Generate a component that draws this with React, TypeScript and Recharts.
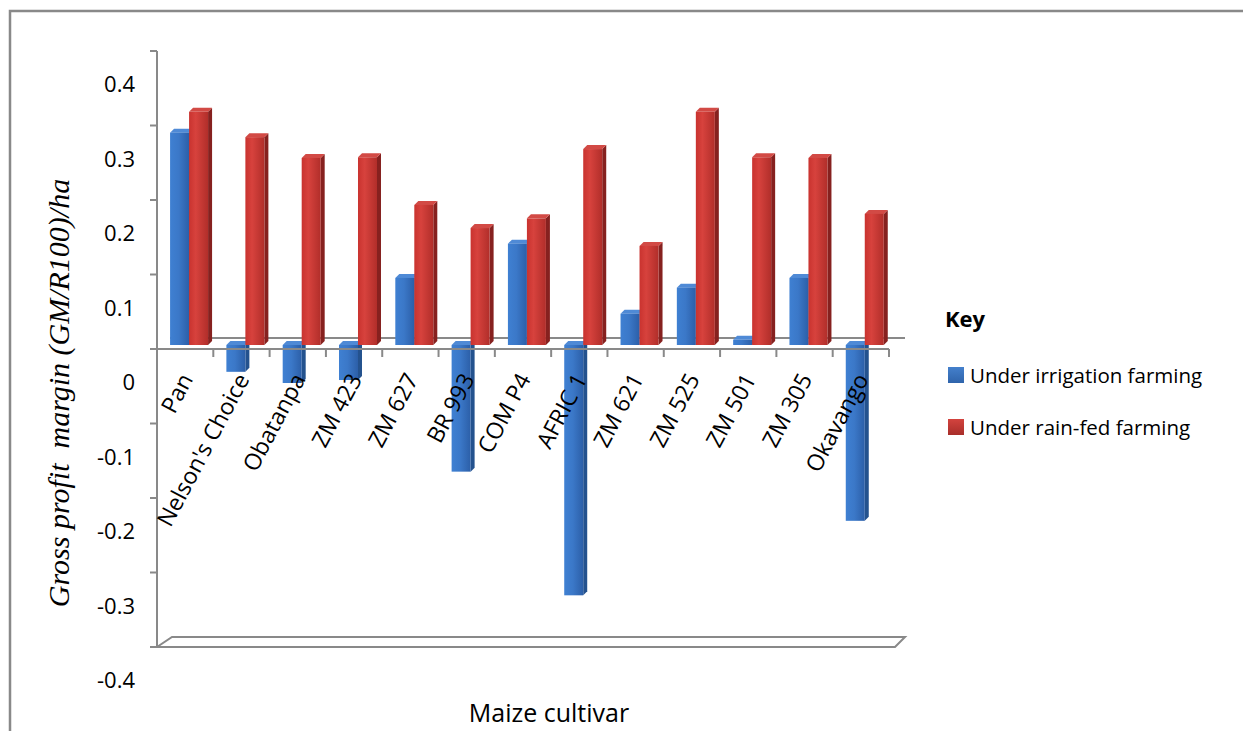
import { BarChart, Bar, XAxis, YAxis, Legend, ReferenceLine } from "recharts";

const cultivars = [
  "Pan",
  "Nelson's Choice",
  "Obatanpa",
  "ZM 423",
  "ZM 627",
  "BR 993",
  "COM P4",
  "AFRIC 1",
  "ZM 621",
  "ZM 525",
  "ZM 501",
  "ZM 305",
  "Okavango",
];
const irrigation = [0.285, -0.036, -0.051, -0.047, 0.09, -0.17, 0.136, -0.336, 0.042, 0.077, 0.007, 0.09, -0.236];
const rainFed = [0.313, 0.279, 0.251, 0.252, 0.188, 0.157, 0.17, 0.263, 0.133, 0.313, 0.252, 0.251, 0.176];
const yTicks = [-0.4, -0.3, -0.2, -0.1, 0, 0.1, 0.2, 0.3, 0.4];

const data = cultivars.map((name, i) => ({ name, irrigation: irrigation[i], rainFed: rainFed[i] }));

// layout (plot area 157..889 x 51..647)
const W = 1243;
const H = 731;
const TOP = 51;
const X_AXIS_H = 84;
const Y_AXIS_W = 157;
const RIGHT = 354;
const PLOT_L = Y_AXIS_W;
const PLOT_R = W - RIGHT;
const PLOT_B = H - X_AXIS_H;
const ZERO_Y = (TOP + PLOT_B) / 2;
const BAND = (PLOT_R - PLOT_L) / cultivars.length;

const GREY = "#898989";
const FONT = "'Open Sans', sans-serif";

const TONES: Record<string, { side: string; top: string; grad: string }> = {
  blue: { side: "#24528e", top: "#4f8ad6", grad: "url(#gBlue)" },
  red: { side: "#86211f", top: "#d24a45", grad: "url(#gRed)" },
};

// bar with a little perspective: front face, right side and top face
const Bar3D = (props: any) => {
  const { x, y, width, height, tone } = props;
  const t = TONES[tone];
  const d = 4;
  const left = x + 3.5;
  const top = Math.min(y, y + height) - 4;
  const h = Math.abs(height);
  return (
    <g>
      <path d={`M${left + width},${top} l${d},${-d} v${h} l${-d},${d} z`} fill={t.side} />
      <path d={`M${left},${top} l${d},${-d} h${width} l${-d},${d} z`} fill={t.top} />
      <rect x={left} y={top} width={width} height={h} fill={t.grad} />
    </g>
  );
};

const CategoryTick = (props: any) => {
  const { x, payload } = props;
  const ax = x + 8.5;
  const ay = ZERO_Y + 30;
  return (
    <g>
      <line x1={x + BAND / 2} y1={ZERO_Y} x2={x + BAND / 2} y2={ZERO_Y + 8} stroke={GREY} strokeWidth={2} />
      <text
        x={ax}
        y={ay}
        transform={`rotate(-62, ${ax}, ${ay})`}
        textAnchor="end"
        fontSize={23}
        fontFamily={FONT}
        fill="#000"
      >
        {payload.value}
      </text>
    </g>
  );
};

const ValueTick = (props: any) => {
  const { x, y, payload } = props;
  const v = payload.value;
  const label = Math.abs(v) < 1e-9 ? "0" : v.toFixed(1);
  return (
    <text x={x} y={y + 32} textAnchor="end" dominantBaseline="central" fontSize={22} fontFamily={FONT} fill="#000">
      {label}
    </text>
  );
};

const YTitle = () => (
  <text
    x={58}
    y={393}
    transform="rotate(-90, 58, 393)"
    textAnchor="middle"
    dominantBaseline="central"
    fontSize={30}
    fontStyle="italic"
    fontFamily="'Liberation Serif', 'Times New Roman', serif"
    style={{ whiteSpace: "pre" }}
    fill="#000"
  >
    {"Gross profit  margin (GM/R100)/ha"}
  </text>
);

const KeyLegend = () => (
  <div style={{ fontFamily: FONT, color: "#000" }}>
    <div style={{ fontWeight: 700, fontSize: 22, lineHeight: "30px", marginBottom: 16 }}>Key</div>
    {[
      { label: "Under irrigation farming", bg: "linear-gradient(#4480cc, #2f64ab)" },
      { label: "Under rain-fed farming", bg: "linear-gradient(#d3433e, #a82e2a)" },
    ].map((it) => (
      <div key={it.label} style={{ display: "flex", alignItems: "center", height: 52, marginLeft: 3 }}>
        <span style={{ width: 16, height: 16, background: it.bg, marginRight: 6, display: "inline-block" }} />
        <span style={{ fontSize: 20.5 }}>{it.label}</span>
      </div>
    ))}
  </div>
);

export default function App() {
  return (
    <div style={{ position: "absolute", left: 0, top: 0, width: W, height: H, background: "#fff" }}>
      <BarChart
        width={W}
        height={H}
        data={data}
        margin={{ top: TOP, right: RIGHT, bottom: 0, left: 0 }}
        barCategoryGap="17%"
        barGap={0}
      >
        <defs>
          <linearGradient id="gBlue" x1="0" y1="0" x2="1" y2="0">
            <stop offset="0%" stopColor="#3f80d2" />
            <stop offset="45%" stopColor="#3b78c8" />
            <stop offset="100%" stopColor="#2c5fa8" />
          </linearGradient>
          <linearGradient id="gRed" x1="0" y1="0" x2="1" y2="0">
            <stop offset="0%" stopColor="#c9332f" />
            <stop offset="35%" stopColor="#d7423d" />
            <stop offset="100%" stopColor="#b12e2a" />
          </linearGradient>
        </defs>
        <path d={`M10,${H} L10,11 L${W},11`} fill="none" stroke={GREY} strokeWidth={2.5} />
        <line x1={170} y1={ZERO_Y - 11} x2={905} y2={ZERO_Y - 11} stroke={GREY} strokeWidth={2} />
        <path
          d={`M${PLOT_L},${PLOT_B} L${PLOT_L + 15},${PLOT_B - 10} H${PLOT_R + 16} L${PLOT_R + 6},${PLOT_B} Z`}
          fill="#fff"
          stroke={GREY}
          strokeWidth={2}
        />
        <line x1={150} y1={PLOT_B} x2={PLOT_R + 6} y2={PLOT_B} stroke={GREY} strokeWidth={2} />
        <XAxis
          dataKey="name"
          height={X_AXIS_H}
          axisLine={false}
          tickLine={false}
          interval={0}
          tick={<CategoryTick />}
          label={{
            value: "Maize cultivar",
            position: "insideBottom",
            offset: 9,
            dx: 26,
            fontSize: 25,
            fontFamily: FONT,
            fill: "#000",
          }}
        />
        <YAxis
          width={Y_AXIS_W}
          domain={[-0.4, 0.4]}
          ticks={yTicks}
          interval={0}
          axisLine={{ stroke: GREY, strokeWidth: 2 }}
          tickLine={{ stroke: GREY, strokeWidth: 2 }}
          tickSize={7}
          tickMargin={15}
          tick={<ValueTick />}
        />
        <ReferenceLine y={0} stroke={GREY} strokeWidth={2} />
        <Bar dataKey="irrigation" name="Under irrigation farming" isAnimationActive={false} shape={<Bar3D tone="blue" />} />
        <Bar dataKey="rainFed" name="Under rain-fed farming" isAnimationActive={false} shape={<Bar3D tone="red" />} />
        <YTitle />
        <Legend
          layout="horizontal"
          verticalAlign="middle"
          align="center"
          content={<KeyLegend />}
          wrapperStyle={{ left: 945, top: 303, width: 290, height: 160 }}
        />
      </BarChart>
    </div>
  );
}
